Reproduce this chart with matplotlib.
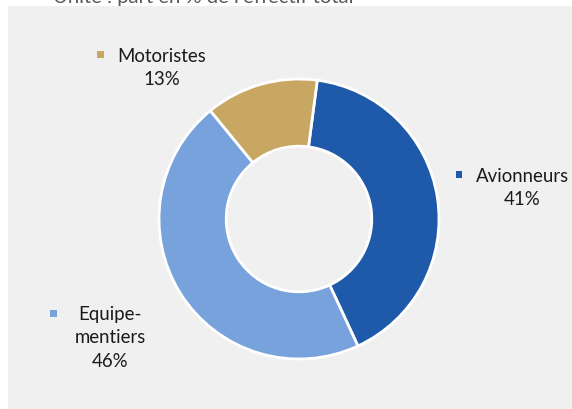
import matplotlib.pyplot as plt
from matplotlib.patches import Rectangle

# data
labels = ['Avionneurs', 'Equipementiers', 'Motoristes']
label_text = ['Avionneurs\n41%', 'Equipe-\nmentiers\n46%', 'Motoristes\n13%']
shares = [41, 46, 13]
colors = ['#1F5AAA', '#78A2DC', '#C8A763']

W, H = 572, 410
plt.rcParams['font.family'] = ['Lato', 'DejaVu Sans']

fig = plt.figure(figsize=(W / 100, H / 100), dpi=100)
fig.patch.set_facecolor('white')

# grey panel
fig.patches.append(Rectangle((8 / W, 0), 1 - 8 / W, (H - 7) / H,
                             transform=fig.transFigure, facecolor='#F0F0F0',
                             edgecolor='none', zorder=-5))

# clipped subtitle at the very top
fig.text(53 / W, 1 - 3 / H, "Unité : part en % de l'effectif total",
         color='#595959', fontsize=14.6, ha='left', va='baseline')

# donut
cx, cy, r = 299, 220, 140
ax = fig.add_axes([(cx - r) / W, (H - cy - r) / H, 2 * r / W, 2 * r / H])
ax.set_zorder(2)
ax.pie(shares, colors=colors, startangle=82.5, counterclock=False,
       wedgeprops=dict(width=0.48, edgecolor='white', linewidth=2))
ax.set_xlim(-1.0, 1.0)
ax.set_ylim(-1.0, 1.0)
ax.set_aspect('equal')
ax.axis('off')

# labels: (text centre x, first line y, marker x, marker y) in pixels
label_pos = [(522, 177, 459, 175), (110, 315, 53, 314), (162, 57, 100, 55)]
for txt, col, (tx, ty, mx, my) in zip(label_text, colors, label_pos):
    fig.text(tx / W, 1 - (ty - 9) / H, txt, ha='center', va='top',
             fontsize=13.4, color='#1a1a1a', linespacing=1.45)
    fig.patches.append(Rectangle(((mx - 3.5) / W, 1 - (my + 3.5) / H), 7 / W, 7 / H,
                                 transform=fig.transFigure, facecolor=col,
                                 edgecolor='none'))

fig.savefig('out.png', dpi=100)
